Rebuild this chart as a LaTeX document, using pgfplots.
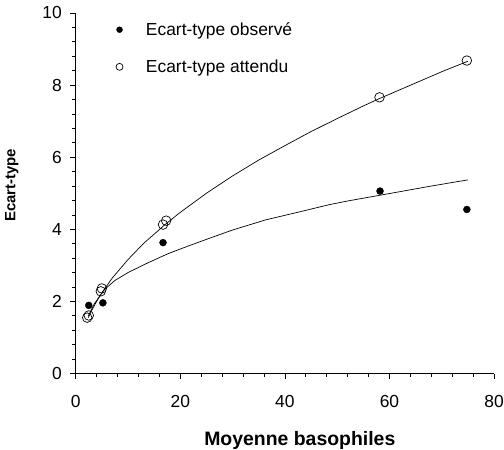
\documentclass[border=0pt]{standalone}
\usepackage{fontspec}
\setmainfont{Liberation Sans}
\usepackage{pgfplots}
\pgfplotsset{compat=1.18}
\begin{document}
\begin{tikzpicture}[x=1pt,y=1pt]
\useasboundingbox (-76,-76) rectangle (430,375);
\begin{axis}[
  at={(0,0)}, anchor=south west,
  scale only axis, width=420pt, height=362pt,
  xmin=0, xmax=80, ymin=0, ymax=10,
  axis lines*=left,
  axis line style={line width=0.8pt},
  tick align=outside,
  xtick={0,20,40,60,80}, ytick={0,2,4,6,8,10},
  minor x tick num=4, minor y tick num=4,
  major tick length=5.5pt, minor tick length=3.5pt,
  tick style={black, line width=0.7pt},
  /pgf/number format/assume math mode=true,
  ticklabel style={font=\fontsize{17.5}{20}\selectfont},
  xticklabel style={yshift=-13pt},
  yticklabel style={xshift=-5pt},
  xlabel={\bfseries Moyenne basophiles},
  ylabel={\bfseries Ecart-type},
  xlabel style={font=\fontsize{19.5}{22}\selectfont, xshift=15pt, yshift=-17pt},
  ylabel style={font=\fontsize{15}{18}\selectfont, xshift=8pt, yshift=17pt},
  clip=false,
  legend style={draw=none, fill=none, at={(rel axis cs:0.088,0.985)}, anchor=north west,
    font=\fontsize{17.5}{20}\selectfont, row sep=19pt},
  legend cell align=left,
]
\addplot[black, line width=0.7pt, forget plot] coordinates {
(2.4,1.55) (3,1.73) (4,2.0) (5,2.24) (7,2.65) (10,3.16) (13,3.61) (17,4.12)
(20,4.47) (25,5.0) (30,5.48) (35,5.92) (40,6.32) (45,6.71) (50,7.07) (55,7.42)
(58,7.62) (62,7.87) (66,8.12) (70,8.37) (75,8.66)};
\addplot[black, line width=0.7pt, forget plot] coordinates {
(2.4,1.6) (3.5,1.92) (5.5,2.33) (7.5,2.58) (10,2.80) (13.8,3.07) (17.6,3.32)
(21.4,3.53) (24.6,3.70) (30,3.98) (36.3,4.26) (42.7,4.48) (48.4,4.68) (52.2,4.79)
(61.1,5.02) (68,5.20) (75,5.37)};
\addplot[only marks, mark=*, mark size=3.5pt, black,
  legend image code/.code={\path[draw=none] (0pt,0pt) -- (26pt,0pt); \fill[black] (1.5pt,0pt) circle (3pt);}] coordinates {
(2.5,1.89) (5.2,1.96) (16.7,3.63) (58.2,5.06) (74.8,4.55)};
\addlegendentry{Ecart-type observé}
\addplot[only marks, mark=o, mark size=4.8pt, black, line width=0.7pt,
  legend image code/.code={\path[draw=none] (0pt,0pt) -- (26pt,0pt); \draw[black, line width=0.7pt] (1.5pt,0pt) circle (3.5pt);}] coordinates {
(2.2,1.55) (2.5,1.61) (4.8,2.28) (5.0,2.36) (16.7,4.13) (17.3,4.24) (58.1,7.66) (74.8,8.68)};
\addlegendentry{Ecart-type attendu}
\end{axis}
\end{tikzpicture}
\end{document}
